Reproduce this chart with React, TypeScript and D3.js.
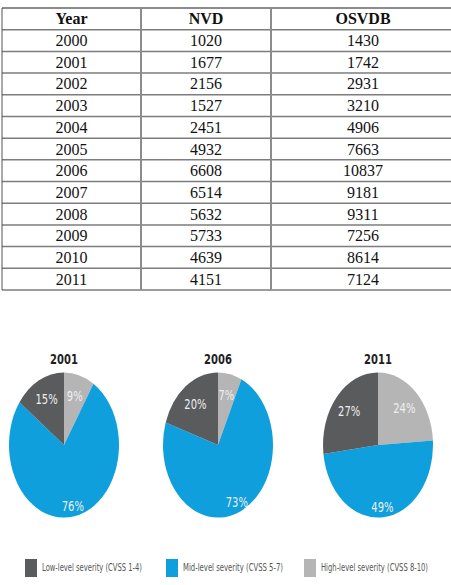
import React, { useEffect } from "react";
import * as d3 from "d3";

const tableHeaders = ["Year", "NVD", "OSVDB"];
const years = ["2000", "2001", "2002", "2003", "2004", "2005", "2006", "2007", "2008", "2009", "2010", "2011"];
const nvd = [1020, 1677, 2156, 1527, 2451, 4932, 6608, 6514, 5632, 5733, 4639, 4151];
const osvdb = [1430, 1742, 2931, 3210, 4906, 7663, 10837, 9181, 9311, 7256, 8614, 7124];

const pieYears = ["2001", "2006", "2011"];
const highShare = [9, 7, 24];
const midShare = [76, 73, 49];
const lowShare = [15, 20, 27];

const severityColors: Record<string, string> = { low: "#5a5b5d", mid: "#0f9fdc", high: "#b5b5b6" };
const legendKeys = ["low", "mid", "high"];
const legendLabels = ["Low-level severity (CVSS 1-4)", "Mid-level severity (CVSS 5-7)", "High-level severity (CVSS 8-10)"];

const W = 451;
const H = 585;

export default function App() {
  useEffect(() => {
    document.body.style.margin = "0";
  }, []);

  // table layout
  const rowScale = d3.scaleBand<number>().domain(d3.range(years.length + 1)).range([8, 290]).padding(0);
  const colEdges = [2, 141, 271, 455];
  const colCenter = (i: number) => (colEdges[i] + colEdges[i + 1]) / 2;
  const rowH = rowScale.bandwidth();
  const lineYs = d3.range(years.length + 2).map((i) => 8 + i * rowH);

  // pies
  const pieX = d3.scaleOrdinal<string, number>().domain(pieYears).range([64, 218, 378]);
  const pieCY = 445;
  const R = 55;
  const sy = 1.32;
  const pie = d3.pie<{ key: string; v: number }>().sort(null).value((d) => d.v);
  const arc = d3.arc<d3.PieArcDatum<{ key: string; v: number }>>().innerRadius(0).outerRadius(R);

  // legend
  const legendX = [25, 166, 304];
  const legendTextLen = [100, 100, 107];

  return (
    <svg width={W} height={H} style={{ display: "block", background: "#fff" }}>
      {/* table lines */}
      {lineYs.map((y, i) => (
        <line
          key={"h" + i}
          x1={2}
          x2={W}
          y1={y}
          y2={y}
          stroke={i === 0 ? "#1a1a1a" : "#7d7d7d"}
          strokeWidth={i === 0 ? 1.2 : 1.5}
        />
      ))}
      {[2, 141, 271].map((x, i) => (
        <line
          key={"v" + i}
          x1={x}
          x2={x}
          y1={8}
          y2={lineYs[lineYs.length - 1]}
          stroke={i === 0 ? "#555" : "#8c8c8c"}
          strokeWidth={i === 0 ? 1 : 2}
        />
      ))}
      <g fontFamily="'Liberation Serif', 'Times New Roman', serif" fontSize={16} fill="#111" textAnchor="middle">
        {tableHeaders.map((h, i) => (
          <text key={h} x={colCenter(i)} y={(rowScale(0) as number) + rowH / 2 + 5.5} fontWeight="bold">
            {h}
          </text>
        ))}
        {years.map((yr, r) => {
          const y = (rowScale(r + 1) as number) + rowH / 2 + 5.5;
          return (
            <g key={yr}>
              <text x={colCenter(0)} y={y}>{yr}</text>
              <text x={colCenter(1)} y={y}>{nvd[r]}</text>
              <text x={colCenter(2)} y={y}>{osvdb[r]}</text>
            </g>
          );
        })}
      </g>

      {/* pies */}
      {pieYears.map((yr, i) => {
        const data = [
          { key: "high", v: highShare[i] },
          { key: "mid", v: midShare[i] },
          { key: "low", v: lowShare[i] },
        ];
        const arcs = pie(data);
        return (
          <g key={yr} transform={`translate(${pieX(yr)},${pieCY}) scale(1,${sy})`}>
            <text
              x={0}
              y={-61}
              textAnchor="middle"
              fontFamily="'DejaVu Sans', sans-serif"
              fontWeight="bold"
              fontSize={10}
              fill="#1e1e1e"
            >
              {yr}
            </text>
            {arcs.map((a) => (
              <path key={a.data.key} d={arc(a) as string} fill={severityColors[a.data.key]} />
            ))}
            {arcs.map((a) => {
              const mid = (a.startAngle + a.endAngle) / 2;
              const rr = a.data.v > 40 ? 0.86 * R : 0.7 * R;
              return (
                <text
                  key={"l" + a.data.key}
                  x={rr * Math.sin(mid)}
                  y={-rr * Math.cos(mid)}
                  dy="0.36em"
                  textAnchor="middle"
                  fontFamily="'DejaVu Sans', sans-serif"
                  fontSize={10}
                  fill="#eeeeee"
                >
                  {a.data.v}%
                </text>
              );
            })}
          </g>
        );
      })}

      {/* legend */}
      {legendKeys.map((k, i) => (
        <g key={k}>
          <rect x={legendX[i]} y={559} width={12} height={18} fill={severityColors[k]} />
          <g transform={`translate(${legendX[i] + 17},${571}) scale(1,${sy})`}>
            <text
              x={0}
              y={0}
              fontFamily="'DejaVu Sans Condensed', 'DejaVu Sans', sans-serif"
              fontSize={8}
              fill="#555"
              textLength={legendTextLen[i]}
              lengthAdjust="spacingAndGlyphs"
            >
              {legendLabels[i]}
            </text>
          </g>
        </g>
      ))}
    </svg>
  );
}
